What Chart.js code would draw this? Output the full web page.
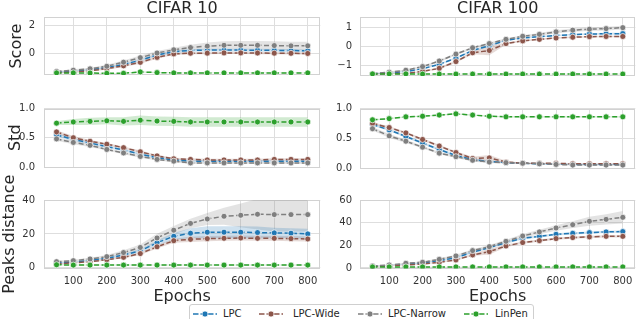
<!DOCTYPE html>
<html>
<head>
<meta charset="utf-8">
<script src="https://cdn.jsdelivr.net/npm/chart.js@4.4.0/dist/chart.umd.min.js"></script>
<style>
  body { margin: 0; background: #fff; font-family: "DejaVu Sans", sans-serif; }
  #wrap { position: relative; width: 640px; height: 319px; overflow: hidden; background: #fff; }
  #wrap canvas { position: absolute; }
  .legend { position: absolute; left: 189px; top: 304px; width: 343px; height: 22px; border: 1px solid #cfcfcf; border-radius: 3px; background: #fff; }
  .item { position: absolute; top: 3px; font-size: 10px; line-height: 12px; color: #262626; white-space: nowrap; }
  .item svg { position: absolute; top: 1px; }
</style>
</head>
<body>
<div id="wrap">
  <canvas id="c10score" width="325" height="90" style="left:0;top:0"></canvas>
  <canvas id="c100score" width="315" height="90" style="left:325px;top:0"></canvas>
  <canvas id="c10std" width="325" height="92" style="left:0;top:90px"></canvas>
  <canvas id="c100std" width="315" height="92" style="left:325px;top:90px"></canvas>
  <canvas id="c10peaks" width="325" height="154" style="left:0;top:165px"></canvas>
  <canvas id="c100peaks" width="315" height="154" style="left:325px;top:165px"></canvas>
  <div class="legend" id="legend"></div>
</div>
<script>
const epochs = [50, 100, 150, 200, 250, 300, 350, 400, 450, 500, 550, 600, 650, 700, 750, 800];
const epochTicks = [100, 200, 300, 400, 500, 600, 700, 800];

const seriesNames = ['LPC', 'LPC-Wide', 'LPC-Narrow', 'LinPen'];
const seriesColors = ['#1f77b4', '#8c564b', '#7f7f7f', '#2ca02c'];

// CIFAR 10 - score
const c10ScoreLPC    = [-1.3, -1.22, -1.12, -0.98, -0.75, -0.45, -0.08, 0.15, 0.25, 0.27, 0.27, 0.27, 0.26, 0.25, 0.24, 0.22];
const c10ScoreWide   = [-1.35, -1.28, -1.2, -1.05, -0.85, -0.6, -0.25, 0.0, 0.05, 0.05, 0.07, 0.07, 0.06, 0.05, 0.04, 0.03];
const c10ScoreNarrow = [-1.25, -1.16, -1.06, -0.88, -0.59, -0.27, 0.06, 0.29, 0.45, 0.55, 0.61, 0.61, 0.61, 0.59, 0.57, 0.57];
const c10ScoreLin    = [-1.35, -1.35, -1.36, -1.38, -1.38, -1.28, -1.33, -1.35, -1.35, -1.35, -1.35, -1.35, -1.35, -1.35, -1.35, -1.35];
const c10ScoreLPCErr    = [0.05, 0.05, 0.05, 0.06, 0.07, 0.08, 0.08, 0.1, 0.1, 0.1, 0.1, 0.1, 0.1, 0.1, 0.1, 0.1];
const c10ScoreWideErr   = [0.05, 0.05, 0.06, 0.07, 0.08, 0.1, 0.1, 0.08, 0.08, 0.08, 0.08, 0.08, 0.08, 0.08, 0.08, 0.08];
const c10ScoreNarrowErr = [0.05, 0.06, 0.07, 0.1, 0.12, 0.15, 0.15, 0.15, 0.2, 0.25, 0.28, 0.3, 0.3, 0.3, 0.3, 0.3];
const c10ScoreLinErr    = [0.03, 0.03, 0.03, 0.03, 0.03, 0.05, 0.04, 0.03, 0.03, 0.03, 0.03, 0.03, 0.03, 0.03, 0.03, 0.03];

// CIFAR 100 - score
const c100ScoreLPC    = [-1.42, -1.37, -1.3, -1.15, -0.92, -0.6, -0.2, 0.05, 0.33, 0.45, 0.52, 0.58, 0.63, 0.66, 0.67, 0.68];
const c100ScoreWide   = [-1.43, -1.4, -1.4, -1.29, -1.13, -0.78, -0.32, -0.2, 0.16, 0.3, 0.38, 0.45, 0.49, 0.52, 0.53, 0.53];
const c100ScoreNarrow = [-1.41, -1.33, -1.23, -1.04, -0.75, -0.39, -0.06, 0.16, 0.38, 0.54, 0.64, 0.77, 0.86, 0.91, 0.94, 0.99];
const c100ScoreLin    = [-1.42, -1.42, -1.42, -1.43, -1.43, -1.43, -1.43, -1.43, -1.43, -1.43, -1.43, -1.43, -1.43, -1.43, -1.43, -1.43];
const c100ScoreLPCErr    = [0.03, 0.03, 0.03, 0.04, 0.04, 0.05, 0.05, 0.05, 0.04, 0.04, 0.04, 0.04, 0.04, 0.04, 0.05, 0.05];
const c100ScoreWideErr   = [0.03, 0.03, 0.03, 0.04, 0.05, 0.06, 0.08, 0.25, 0.05, 0.04, 0.04, 0.04, 0.04, 0.04, 0.04, 0.04];
const c100ScoreNarrowErr = [0.03, 0.03, 0.04, 0.05, 0.06, 0.06, 0.06, 0.06, 0.06, 0.06, 0.07, 0.08, 0.08, 0.09, 0.1, 0.1];
const c100ScoreLinErr    = [0.02, 0.02, 0.02, 0.02, 0.02, 0.02, 0.02, 0.02, 0.02, 0.02, 0.02, 0.02, 0.02, 0.02, 0.02, 0.02];

// CIFAR 10 - std
const c10StdLPC    = [0.55, 0.47, 0.41, 0.35, 0.29, 0.22, 0.16, 0.12, 0.1, 0.1, 0.1, 0.1, 0.1, 0.1, 0.1, 0.1];
const c10StdWide   = [0.6, 0.5, 0.44, 0.39, 0.33, 0.26, 0.19, 0.14, 0.13, 0.12, 0.12, 0.12, 0.12, 0.13, 0.13, 0.13];
const c10StdNarrow = [0.48, 0.42, 0.37, 0.3, 0.24, 0.18, 0.13, 0.1, 0.07, 0.07, 0.07, 0.07, 0.07, 0.07, 0.07, 0.07];
const c10StdLin    = [0.75, 0.77, 0.78, 0.79, 0.78, 0.8, 0.785, 0.78, 0.77, 0.77, 0.77, 0.77, 0.77, 0.77, 0.77, 0.77];
const c10StdLPCErr    = [0.03, 0.03, 0.02, 0.02, 0.02, 0.02, 0.02, 0.02, 0.02, 0.02, 0.02, 0.02, 0.02, 0.02, 0.02, 0.02];
const c10StdWideErr   = [0.03, 0.03, 0.02, 0.02, 0.02, 0.02, 0.02, 0.02, 0.02, 0.02, 0.02, 0.02, 0.02, 0.02, 0.02, 0.02];
const c10StdNarrowErr = [0.03, 0.03, 0.03, 0.02, 0.02, 0.02, 0.02, 0.02, 0.02, 0.02, 0.02, 0.02, 0.02, 0.02, 0.02, 0.02];
const c10StdLinErr    = [0.03, 0.05, 0.06, 0.06, 0.07, 0.08, 0.08, 0.08, 0.08, 0.08, 0.08, 0.08, 0.08, 0.08, 0.08, 0.08];

// CIFAR 100 - std
const c100StdLPC    = [0.73, 0.64, 0.53, 0.42, 0.31, 0.21, 0.14, 0.11, 0.09, 0.08, 0.07, 0.07, 0.06, 0.06, 0.06, 0.06];
const c100StdWide   = [0.75, 0.68, 0.59, 0.48, 0.37, 0.26, 0.16, 0.17, 0.1, 0.08, 0.08, 0.08, 0.07, 0.07, 0.07, 0.07];
const c100StdNarrow = [0.66, 0.54, 0.45, 0.35, 0.25, 0.19, 0.13, 0.1, 0.09, 0.08, 0.07, 0.06, 0.05, 0.05, 0.05, 0.05];
const c100StdLin    = [0.81, 0.83, 0.86, 0.87, 0.89, 0.91, 0.89, 0.87, 0.86, 0.86, 0.86, 0.86, 0.86, 0.86, 0.86, 0.86];
const c100StdLPCErr    = [0.02, 0.02, 0.02, 0.02, 0.02, 0.02, 0.02, 0.02, 0.01, 0.01, 0.01, 0.01, 0.01, 0.01, 0.01, 0.01];
const c100StdWideErr   = [0.02, 0.02, 0.02, 0.02, 0.02, 0.02, 0.03, 0.05, 0.02, 0.01, 0.01, 0.01, 0.01, 0.01, 0.01, 0.01];
const c100StdNarrowErr = [0.03, 0.03, 0.03, 0.02, 0.02, 0.02, 0.02, 0.02, 0.01, 0.01, 0.01, 0.01, 0.01, 0.01, 0.01, 0.01];
const c100StdLinErr    = [0.01, 0.01, 0.01, 0.01, 0.01, 0.01, 0.01, 0.01, 0.01, 0.01, 0.01, 0.01, 0.01, 0.01, 0.01, 0.01];

// CIFAR 10 - peaks distance
const c10PeaksLPC    = [2.8, 3.4, 4.4, 5.6, 7.6, 10, 14.8, 18.6, 20.4, 21, 21, 21, 20.8, 20.6, 20.4, 20];
const c10PeaksWide   = [2.2, 3, 3.6, 4.8, 6.2, 8.4, 12.4, 16, 16.8, 17.2, 17.4, 17.6, 17.4, 17.4, 17.2, 17];
const c10PeaksNarrow = [3.6, 4.2, 5.2, 6.6, 9, 12, 17.6, 22.2, 26.2, 28.8, 30.4, 31, 31.6, 31.4, 31.4, 31.4];
const c10PeaksLin    = [1.8, 1.6, 1.6, 1.6, 1.6, 1.6, 1.6, 1.6, 1.6, 1.6, 1.6, 1.6, 1.6, 1.6, 1.6, 1.6];
const c10PeaksLPCErr    = [0.4, 0.4, 0.5, 0.6, 0.8, 1, 1.5, 2, 3, 3.5, 3.5, 3.5, 3.5, 3, 3, 3];
const c10PeaksWideErr   = [0.4, 0.4, 0.4, 0.5, 0.6, 0.8, 1, 1.2, 1.5, 1.5, 1.5, 1.5, 1.5, 1.5, 1.5, 1.5];
const c10PeaksNarrowErr = [0.6, 0.6, 0.8, 1, 1.3, 1.8, 2.5, 2.5, 2.8, 3.5, 5, 7, 9, 10, 10, 10];
const c10PeaksLinErr    = [0.3, 0.3, 0.3, 0.3, 0.3, 0.3, 0.3, 0.3, 0.3, 0.3, 0.3, 0.3, 0.3, 0.3, 0.3, 0.3];

// CIFAR 100 - peaks distance
const c100PeaksLPC    = [1.5, 2.2, 3.2, 4.4, 6.5, 9, 14, 17.9, 22.4, 26.2, 27.9, 29.7, 30.6, 31.2, 31.8, 32.1];
const c100PeaksWide   = [1.2, 1.8, 2.6, 3.5, 5, 7.1, 11.5, 14.4, 19.4, 22.4, 24.1, 25.9, 26.8, 27.4, 27.9, 27.9];
const c100PeaksNarrow = [1.8, 2.6, 4.1, 5, 7.6, 10.6, 15.3, 18.8, 23.5, 28.2, 31.8, 35.3, 38.2, 41.2, 42.9, 44.7];
const c100PeaksLin    = [0.9, 0.9, 0.9, 0.9, 0.9, 0.9, 0.9, 0.9, 0.9, 0.9, 0.9, 0.9, 0.9, 0.9, 0.9, 0.9];
const c100PeaksLPCErr    = [0.3, 0.3, 0.4, 0.5, 0.6, 0.8, 1, 1, 1, 1, 1, 1, 1, 1, 1, 1];
const c100PeaksWideErr   = [0.3, 0.3, 0.4, 0.5, 0.6, 0.8, 1, 2.5, 1.2, 1, 1, 1, 1, 1, 1, 1];
const c100PeaksNarrowErr = [0.5, 0.5, 0.6, 0.7, 1, 1, 1.2, 1.5, 1.5, 1.8, 2, 2.5, 3, 4, 4.5, 5.5];
const c100PeaksLinErr    = [0.2, 0.2, 0.2, 0.2, 0.2, 0.2, 0.2, 0.2, 0.2, 0.2, 0.2, 0.2, 0.2, 0.2, 0.2, 0.2];

const FONT = '"DejaVu Sans", sans-serif';
const gridColor = '#dedede';

function withAlpha(hex, a) {
  const n = parseInt(hex.slice(1), 16);
  return `rgba(${n >> 16},${(n >> 8) & 255},${n & 255},${a})`;
}

function fmt(v, digits) {
  const s = Math.abs(v).toFixed(digits);
  return v < 0 ? '\u2212' + s : s;
}

// light frame round the plot area (matplotlib spines)
const framePlugin = {
  id: 'frame',
  beforeDatasetsDraw(chart) {
    const a = chart.chartArea, ctx = chart.ctx;
    ctx.save();
    ctx.strokeStyle = '#d2d2d2';
    ctx.lineWidth = 1;
    ctx.strokeRect(Math.round(a.left) + 0.5, Math.round(a.top) + 0.5, Math.round(a.right - a.left) - 1, Math.round(a.bottom - a.top) - 1);
    ctx.restore();
  }
};

function makePanel(id, means, errs, cfg) {
  const datasets = [];
  means.forEach((m, i) => {
    const c = seriesColors[i];
    datasets.push({
      data: epochs.map((x, j) => ({ x, y: m[j] - errs[i][j] })),
      borderWidth: 0, pointRadius: 0, fill: false, order: 20 + i
    });
    datasets.push({
      data: epochs.map((x, j) => ({ x, y: m[j] + errs[i][j] })),
      borderWidth: 0, pointRadius: 0, fill: '-1', backgroundColor: withAlpha(c, 0.22), order: 20 + i
    });
  });
  means.forEach((m, i) => {
    const c = seriesColors[i];
    datasets.push({
      label: seriesNames[i],
      data: epochs.map((x, j) => ({ x, y: m[j] })),
      borderColor: c, borderWidth: 1.5, borderDash: [5, 2.5],
      pointRadius: 3, pointBackgroundColor: c, pointBorderColor: '#fff', pointBorderWidth: 0.7,
      fill: false, order: 4 - i
    });
  });

  return new Chart(document.getElementById(id), {
    type: 'line',
    data: { datasets },
    plugins: [framePlugin],
    options: {
      responsive: false,
      animation: false,
      events: [],
      layout: { padding: cfg.padding },
      plugins: {
        legend: { display: false },
        tooltip: { enabled: false },
        title: {
          display: !!cfg.title,
          text: cfg.title,
          fullSize: false,
          color: '#262626',
          font: { family: FONT, size: 16, weight: 'normal', lineHeight: 1.08 },
          padding: 0
        }
      },
      scales: {
        x: {
          type: 'linear',
          min: 12.5, max: 837.5,
          afterBuildTicks: s => { s.ticks = epochTicks.map(v => ({ value: v })); },
          afterFit: s => { s.height = cfg.xHeight; },
          grid: { color: gridColor, drawTicks: false },
          border: { display: false },
          ticks: { display: cfg.xLabels, padding: 7, color: '#333', font: { family: FONT, size: 10 }, maxRotation: 0 },
          title: {
            display: cfg.xLabels, text: 'Epochs', color: '#262626',
            font: { family: FONT, size: 16, lineHeight: 1 }, padding: 0
          }
        },
        y: {
          min: cfg.yMin, max: cfg.yMax,
          afterBuildTicks: s => { s.ticks = cfg.yTicks.map(v => ({ value: v })); },
          afterFit: s => { s.width = cfg.yWidth; },
          grid: { color: gridColor, drawTicks: false },
          border: { display: false },
          ticks: {
            padding: cfg.tickPad, color: '#333', font: { family: FONT, size: 10 },
            callback: v => fmt(v, cfg.digits)
          },
          title: {
            display: !!cfg.yTitle, text: cfg.yTitle, color: '#262626',
            font: { family: FONT, size: 16, lineHeight: 1 }, padding: { top: cfg.titlePad, bottom: 0 }
          }
        }
      }
    }
  });
}

const leftCol = { yWidth: 44, tickPad: 9 };
const rightCol = { yWidth: 35, tickPad: 8 };

makePanel('c10score',
  [c10ScoreLPC, c10ScoreWide, c10ScoreNarrow, c10ScoreLin],
  [c10ScoreLPCErr, c10ScoreWideErr, c10ScoreNarrowErr, c10ScoreLinErr],
  Object.assign({}, leftCol, { title: 'CIFAR 10', yTitle: 'Score', titlePad: 9, yMin: -1.5, yMax: 2.6, yTicks: [0, 2], digits: 0,
    xLabels: false, xHeight: 0, padding: { top: 0, bottom: 3.4, left: 0, right: 2 } }));

makePanel('c100score',
  [c100ScoreLPC, c100ScoreWide, c100ScoreNarrow, c100ScoreLin],
  [c100ScoreLPCErr, c100ScoreWideErr, c100ScoreNarrowErr, c100ScoreLinErr],
  Object.assign({}, rightCol, { title: 'CIFAR 100', yMin: -1.53, yMax: 1.53, yTicks: [-1, 0, 1], digits: 0,
    xLabels: false, xHeight: 0, padding: { top: 0, bottom: 3.4, left: 0, right: 3 } }));

makePanel('c10std',
  [c10StdLPC, c10StdWide, c10StdNarrow, c10StdLin],
  [c10StdLPCErr, c10StdWideErr, c10StdNarrowErr, c10StdLinErr],
  Object.assign({}, leftCol, { yTitle: 'Std', titlePad: 8, yMin: 0, yMax: 1, yTicks: [0, 0.5, 1], digits: 1,
    xLabels: false, xHeight: 0, padding: { top: 18.5, bottom: 4.3, left: 0, right: 2 } }));

makePanel('c100std',
  [c100StdLPC, c100StdWide, c100StdNarrow, c100StdLin],
  [c100StdLPCErr, c100StdWideErr, c100StdNarrowErr, c100StdLinErr],
  Object.assign({}, rightCol, { yMin: 0, yMax: 1, yTicks: [0, 0.5, 1], digits: 1,
    xLabels: false, xHeight: 0, padding: { top: 18.5, bottom: 4.3, left: 0, right: 3 } }));

makePanel('c10peaks',
  [c10PeaksLPC, c10PeaksWide, c10PeaksNarrow, c10PeaksLin],
  [c10PeaksLPCErr, c10PeaksWideErr, c10PeaksNarrowErr, c10PeaksLinErr],
  Object.assign({}, leftCol, { yTitle: 'Peaks distance', titlePad: 2, yMin: -0.4, yMax: 40, yTicks: [0, 20, 40], digits: 0,
    xLabels: true, xHeight: 36.5, padding: { top: 35, bottom: 14, left: 0, right: 2 } }));

makePanel('c100peaks',
  [c100PeaksLPC, c100PeaksWide, c100PeaksNarrow, c100PeaksLin],
  [c100PeaksLPCErr, c100PeaksWideErr, c100PeaksNarrowErr, c100PeaksLinErr],
  Object.assign({}, rightCol, { yMin: -0.5, yMax: 60, yTicks: [0, 20, 40, 60], digits: 0,
    xLabels: true, xHeight: 36.5, padding: { top: 35, bottom: 14, left: 0, right: 3 } }));

// legend below the panels
const legendPos = [[3, 33], [69, 103], [168, 198], [274, 305]];
const legend = document.getElementById('legend');
seriesNames.forEach((name, i) => {
  const c = seriesColors[i];
  const sym = document.createElement('div');
  sym.className = 'item';
  sym.style.left = legendPos[i][0] + 'px';
  sym.innerHTML = `<svg width="24" height="10"><line x1="0" y1="5" x2="24" y2="5" stroke="${c}" stroke-width="1.5" stroke-dasharray="5.5,2"/><circle cx="12" cy="5" r="3" fill="${c}" stroke="#fff" stroke-width="0.7"/></svg>`;
  legend.appendChild(sym);
  const txt = document.createElement('div');
  txt.className = 'item';
  txt.style.left = legendPos[i][1] + 'px';
  txt.textContent = name;
  legend.appendChild(txt);
});
</script>
</body>
</html>
